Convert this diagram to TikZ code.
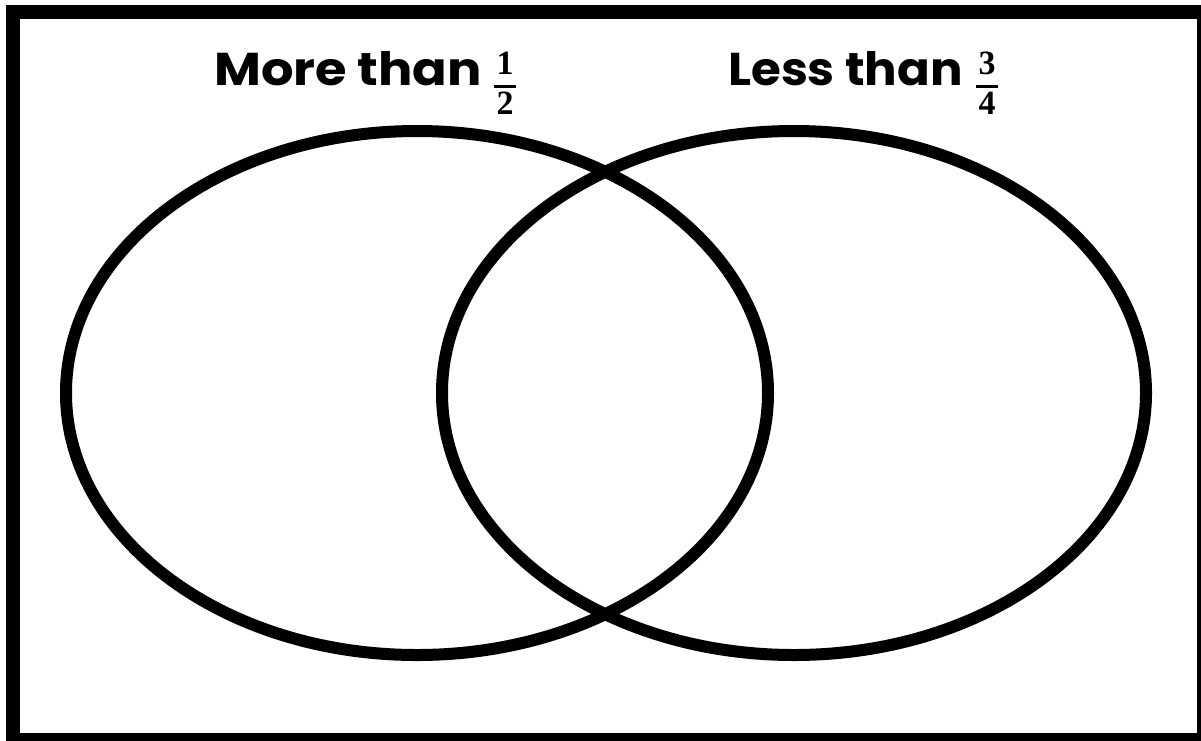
\documentclass[tikz,border=0pt]{standalone}
\usepackage{fontspec}
\newfontfamily\labfont{Poppins}
\newfontfamily\digfont{Liberation Serif}
\tikzset{
  frame/.style={line width=14pt, draw=black},
  venn/.style={line width=12pt, draw=black},
  lab/.style={inner sep=0pt, anchor=base west, font=\labfont\bfseries\fontsize{46}{50}\selectfont},
  dig/.style={inner sep=0pt, anchor=base, font=\digfont\bfseries\fontsize{34}{38}\selectfont},
  fbar/.style={line width=3pt, draw=black}
}
\begin{document}
\begin{tikzpicture}[x=1pt,y=-1pt]
\useasboundingbox (0,0) rectangle (1201,740);
\draw[frame] (13,11.5) rectangle (1204,740);
\draw[venn] (417,393) ellipse [x radius=351, y radius=262];
\draw[venn] (794,393) ellipse [x radius=352, y radius=262];
\node[lab] (more) at (214,85) {\scalebox{1.11}[1]{More than}};
\node[dig] (n1) at (505,74) {1};
\node[dig] (d1) at (505,114) {2};
\coordinate (b1l) at (494,86);
\coordinate (b1r) at (516,86);
\draw[fbar] (b1l) -- (b1r);
\node[lab] (less) at (728,85) {\scalebox{1.05}[1]{Less than}};
\node[dig] (n2) at (987,74) {3};
\node[dig] (d2) at (987,114) {4};
\coordinate (b2l) at (976,86);
\coordinate (b2r) at (998,86);
\draw[fbar] (b2l) -- (b2r);
\end{tikzpicture}
\end{document}
